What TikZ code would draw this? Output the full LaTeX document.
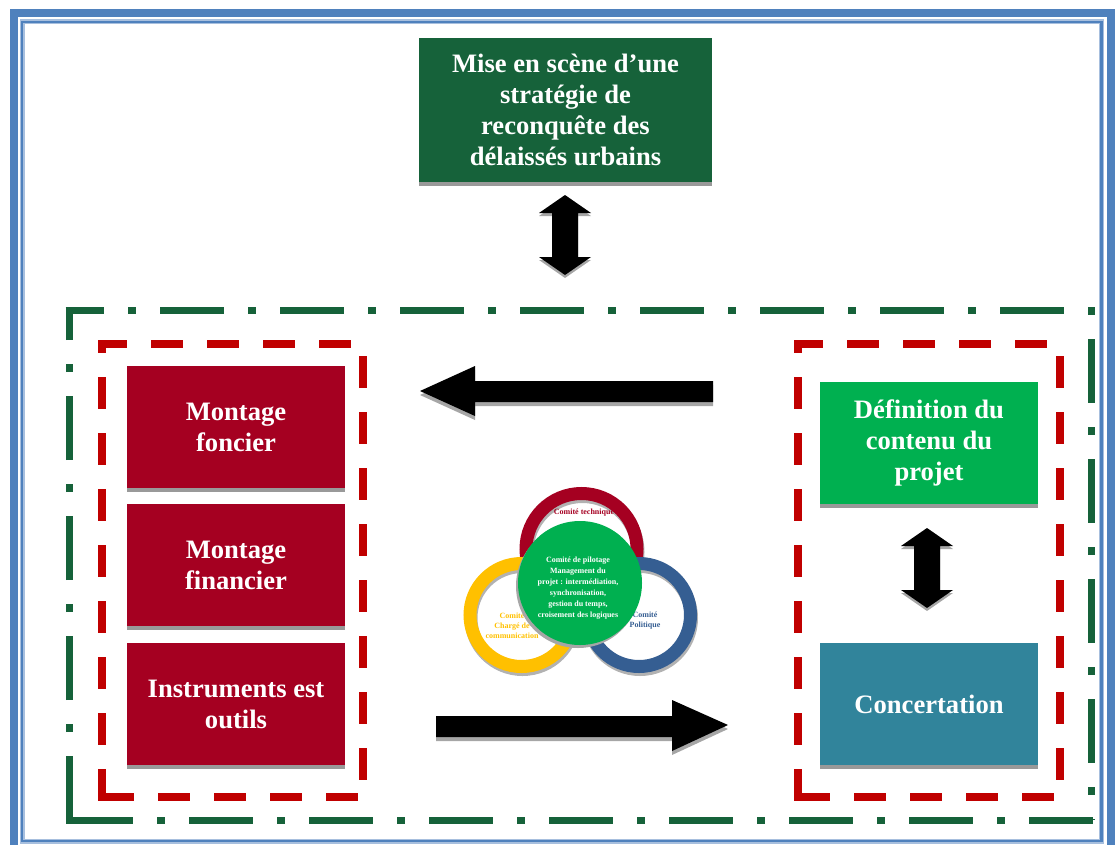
\documentclass[tikz,border=0pt]{standalone}
\usepackage{fontspec}
\setmainfont{Liberation Serif}
\usetikzlibrary{shadows}
\definecolor{cadrebleu}{HTML}{4F81BD}
\definecolor{cadreclair}{HTML}{A7BFDE}
\definecolor{vertfonce}{HTML}{16623A}
\definecolor{vertvif}{HTML}{00B050}
\definecolor{bordeaux}{HTML}{A50021}
\definecolor{rougetiret}{HTML}{C00000}
\definecolor{petrole}{HTML}{31849B}
\definecolor{jaune}{HTML}{FFC000}
\definecolor{bleuanneau}{HTML}{355E92}
\begin{document}
\begin{tikzpicture}[x=1pt, y=-1pt, line join=miter,
	bloc/.style={minimum width=218pt, minimum height=122pt, inner sep=0pt, text=white, align=center,
		font=\bfseries\fontsize{26.6}{31}\selectfont,
		drop shadow={shadow xshift=0pt, shadow yshift=-4pt, fill=black!40, opacity=1}},
	anneau/.style={line width=13pt},
	petit/.style={inner sep=0pt, align=center, font=\bfseries\fontsize{8}{10}\selectfont},
	tirets/.style={rougetiret, line width=7.5pt, dash pattern=on 32pt off 24pt},
	pointille/.style={vertfonce, line width=7pt, dash pattern=on 64pt off 24pt on 8pt off 24pt}]
	\useasboundingbox (0,0) rectangle (1118,845);
	\clip (0,0) rectangle (1118,845);
	\def\doublefleche(#1,#2,#3){%
		\foreach \s/\c in {3/black!35, 0/black}
		\fill[\c, yshift=-\s pt] (#1,#2) -- ++(26,18) -- ++(-13,0) -- (#1+13,#3-18) -- ++(13,0) -- (#1,#3)
		-- ++(-26,-18) -- ++(13,0) -- (#1-13,#2+18) -- ++(-13,0) -- cycle;}
	
	\draw[cadrebleu, line width=8pt] (13.5,13.5) rectangle (1110.5,852);
	\draw[cadreclair, line width=5pt] (22,22) rectangle (1101.5,841);
	\draw[cadrebleu, line width=2.6pt] (22,22) rectangle (1101.5,841);
	
	\draw[pointille, dash phase=25.5pt] (65.5,310) -- (1091,310) -- (1091,820);
	\draw[pointille] (69,820) -- (69,306.5);
	\draw[pointille] (69,820) -- (1094.5,820);
	\fill[vertfonce] (65.5,816.5) rectangle (72.5,823.5);
	
	\foreach \xa/\xb in {102/363, 798/1060}{
		\draw[tirets, dash phase=3pt] (\xa-3.75,344) -- (\xb,344);
		\draw[tirets, dash phase=44pt] (\xb,344) -- (\xb,797);
		\draw[tirets] (\xa,797) -- (\xb,797);
		\draw[tirets] (\xa,800.75) -- (\xa,340.25);
	}
	
	\node[bloc, fill=vertfonce, minimum width=293pt, minimum height=144pt] (strategie) at (565.5,110)
		{Mise en scène d’une\\stratégie de\\reconquête des\\délaissés urbains};
	\node[bloc, fill=bordeaux] (foncier) at (236,427) {Montage\\foncier};
	\node[bloc, fill=bordeaux] (financier) at (236,565) {Montage\\financier};
	\node[bloc, fill=bordeaux] (outils) at (236,704) {Instruments est\\outils};
	\node[bloc, fill=vertvif] (contenu) at (929,443) {Définition du\\contenu du\\projet};
	\node[bloc, fill=petrole] (concertation) at (929,704) {Concertation};
	
	\doublefleche(565,195,275)
	\doublefleche(927,528,608)
	\foreach \s/\c in {4/black!35, 0/black}{
		\fill[\c, yshift=-\s pt] (420,391) -- (475,366) -- (475,381) -- (713,381) -- (713,402) -- (475,402) -- (475,416) -- cycle;
		\fill[\c, yshift=-\s pt] (728,725) -- (672,700) -- (672,716) -- (436,716) -- (436,737) -- (672,737) -- (672,751) -- cycle;
	}
	
	\foreach \cx/\cy/\r/\col in {581.5/549/55.5/bordeaux, 521.5/615/51.5/jaune, 639/615/51.5/bleuanneau}{
		\draw[anneau, black!30] (\cx+1,\cy+3) circle[radius=\r pt];
		\draw[anneau, \col] (\cx,\cy) circle[radius=\r pt];
	}
	\node[petit, text=bordeaux] (technique) at (584,513) {Comité technique};
	\node[petit, text=jaune] (communication) at (512,626) {Comité\\Chargé de\\communication};
	\node[petit, text=bleuanneau] (politique) at (645,621) {Comité\\Politique};
	\node[circle, fill=vertvif, minimum size=124pt, inner sep=0pt,
		drop shadow={shadow xshift=-2pt, shadow yshift=-3pt, fill=black!35, opacity=1}] (comite) at (580,583) {};
	\node[petit, text=white, font=\bfseries\fontsize{8}{10.9}\selectfont] (pilotage) at (578,588)
		{Comité de pilotage\\Management du\\projet : intermédiation,\\synchronisation,\\gestion du temps,\\croisement des logiques};
\end{tikzpicture}
\end{document}
